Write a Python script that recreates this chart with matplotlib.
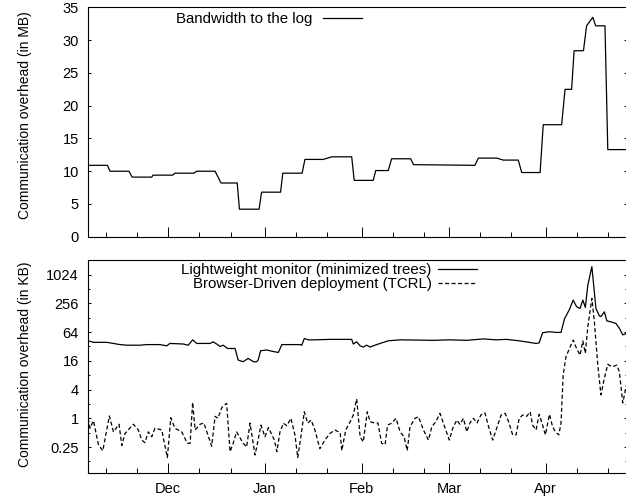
import numpy as np
import matplotlib
matplotlib.use('Agg')
import matplotlib.pyplot as plt
from matplotlib.ticker import FixedLocator, FixedFormatter, NullFormatter

plt.rcParams['font.family'] = ['Liberation Sans', 'DejaVu Sans']
plt.rcParams['lines.scale_dashes'] = False

# x axis: days since 1 December
month_labels = ['Dec', 'Jan', 'Feb', 'Mar', 'Apr']
month_days = [0, 31, 62, 90, 121]
minor_days = [-20, -10, 10, 20, 41, 51, 72, 82, 100, 110, 131, 141]
x_range = (-25.65, 146.9)

# top panel: bandwidth to the log (MB)
log_days = [-25.7, -19.5, -18.7, -12.6, -11.6, -5.3, -4.9, 1.4, 2.1, 8.2,
            9.1, 15.0, 16.9, 22.1, 22.8, 29.1, 29.9, 36.0, 36.7, 42.9,
            43.8, 49.7, 52.4, 58.8, 59.6, 65.7, 66.5, 70.5, 71.6, 77.7,
            78.6, 98.3, 99.4, 105.3, 107.4, 112.2, 113.3, 119.2, 120.2, 126.1,
            127.2, 129.3, 130.1, 133.1, 134.1, 136.1, 137.0, 140.0, 140.9, 146.9]
log_mb = [10.9, 10.9, 10.0, 10.0, 9.1, 9.1, 9.4, 9.4, 9.7, 9.7,
          10.0, 10.0, 8.2, 8.2, 4.2, 4.2, 6.8, 6.8, 9.7, 9.7,
          11.8, 11.8, 12.2, 12.2, 8.6, 8.6, 10.1, 10.1, 11.9, 11.9,
          11.0, 10.9, 12.0, 12.0, 11.7, 11.7, 9.8, 9.8, 17.1, 17.1,
          22.5, 22.5, 28.4, 28.4, 32.2, 33.5, 32.2, 32.2, 13.3, 13.3]
mb_ticks = [0, 5, 10, 15, 20, 25, 30, 35]

# bottom panel: lightweight monitor (KB)
lw_days = [-25.7, -24.0, -19.7, -17.6, -15.5, -13.3, -9.1, -6.9, -2.7, -0.5,
           0.5, 4.8, 6.4, 7.8, 9.1, 13.4, 14.4, 15.5, 16.6, 17.6,
           19.0, 21.4, 22.4, 24.0, 25.6, 27.3, 28.3, 28.8, 29.6, 31.5,
           33.7, 35.3, 36.4, 39.0, 42.2, 42.8, 43.6, 44.9, 46.5, 51.8,
           56.7, 58.8, 59.3, 60.4, 61.5, 62.5, 63.6, 64.7, 65.7, 67.9,
           70.5, 74.3, 85.0, 90.3, 95.7, 101.0, 105.1, 108.3, 112.5, 115.7,
           117.9, 118.9, 120.0, 122.2, 124.3, 125.9, 127.0, 128.6, 129.8, 130.9,
           132.0, 132.9, 133.7, 134.5, 135.8, 137.1, 138.2, 138.7, 139.8, 140.6,
           141.9, 143.5, 144.6, 145.7, 146.9]
lw_kb = [42, 39, 39, 37, 35, 34, 34, 35, 35, 33,
         37, 36, 34, 44, 37, 37, 40, 36, 32, 34,
         29, 29, 16.6, 15.3, 18, 15.3, 15.3, 16.6, 26, 27,
         25, 24, 35, 35, 35, 34, 47, 44, 44, 45,
         45, 45, 36, 40, 33, 31, 34, 31, 33, 37,
         42, 44, 43, 44, 43, 46, 44, 45, 42, 39,
         37, 38, 62, 65, 63, 63, 120, 190, 300, 218,
         200, 300, 210, 620, 1500, 200, 140, 135, 170, 110,
         105, 97, 77, 56, 60]

# bottom panel: browser-driven deployment (KB)
bd_days = [-25.7, -25.1, -24.0, -22.4, -21.0, -18.9, -17.6, -15.8, -14.9, -13.9,
           -11.2, -9.6, -8.5, -7.5, -6.4, -5.3, -4.3, -2.1, -0.3, 0.8,
           2.1, 4.3, 6.1, 7.0, 7.8, 8.6, 10.2, 11.4, 13.9, 15.0,
           15.9, 17.2, 18.7, 19.8, 20.8, 21.9, 24.0, 25.1, 26.2, 27.8,
           28.9, 29.7, 31.0, 32.1, 34.0, 34.8, 35.8, 36.9, 38.0, 39.3,
           40.6, 41.5, 42.5, 43.6, 44.7, 45.8, 47.0, 48.6, 50.2, 51.8,
           53.4, 55.1, 55.6, 56.9, 58.3, 59.3, 60.4, 61.5, 62.5, 63.8,
           64.7, 66.0, 67.2, 68.4, 69.5, 70.3, 71.6, 73.0, 74.3, 75.6,
           76.6, 77.5, 79.1, 80.2, 81.8, 83.4, 84.5, 85.8, 87.1, 88.4,
           90.1, 91.2, 92.5, 93.5, 94.6, 95.7, 96.7, 97.8, 99.0, 100.2,
           101.5, 102.6, 104.0, 105.1, 106.7, 108.0, 109.1, 110.4, 111.5, 112.5,
           113.6, 114.9, 116.0, 116.8, 117.9, 118.9, 119.8, 120.9, 122.2, 123.2,
           124.1, 125.2, 125.9, 126.6, 127.5, 128.6, 129.8, 130.9, 132.0, 132.9,
           133.7, 134.5, 135.8, 136.6, 137.7, 138.7, 139.8, 140.9, 142.3, 143.8,
           144.6, 145.7, 146.9]
bd_kb = [1.0, 0.62, 0.89, 0.28, 0.21, 1.12, 0.52, 0.75, 0.27, 0.48,
         0.75, 0.57, 0.35, 0.31, 0.52, 0.41, 0.62, 0.57, 0.15, 1.03,
         0.62, 0.52, 0.30, 0.30, 2.16, 0.57, 0.75, 0.8, 0.26, 1.1,
         1.0, 1.7, 2.06, 0.2, 0.3, 0.52, 0.3, 0.25, 0.79, 0.17,
         0.38, 0.72, 0.41, 0.64, 0.35, 0.2, 0.52, 0.79, 0.7, 1.0,
         0.45, 0.15, 0.41, 1.37, 0.79, 0.92, 0.57, 0.23, 0.35, 0.48,
         0.57, 0.5, 0.21, 0.57, 0.85, 1.17, 2.54, 0.41, 0.32, 1.37,
         0.85, 0.8, 0.8, 0.3, 0.28, 0.72, 0.79, 1.0, 0.52, 0.41,
         0.21, 0.67, 1.0, 1.08, 0.57, 0.35, 0.67, 0.85, 1.27, 0.72,
         0.35, 0.62, 0.92, 0.75, 1.0, 0.52, 0.8, 1.0, 0.8, 1.17,
         1.3, 0.7, 0.35, 0.57, 1.17, 1.27, 0.85, 0.45, 0.45, 1.0,
         1.17, 1.1, 1.37, 0.72, 0.57, 1.21, 0.8, 0.45, 1.21, 0.67,
         0.52, 0.45, 0.79, 8.1, 19.5, 29, 43.6, 29, 21, 41.6,
         23, 83, 325, 105, 13, 3.1, 6.9, 13.5, 12, 13,
         9.5, 2.1, 5]
kb_ticks = [0.25, 1, 4, 16, 64, 256, 1024]
kb_tick_labels = ['0.25', '1', '4', '16', '64', '256', '1024']
kb_minor = [0.125, 0.5, 2, 8, 32, 128, 512]

series_labels = ['Bandwidth to the log',
                 'Lightweight monitor (minimized trees)',
                 'Browser-Driven deployment (TCRL)']

W, H = 626, 498
fig = plt.figure(figsize=(W / 100, H / 100), dpi=100)

def fx(px):
    return px / W

def fy(py):
    return 1 - py / H

left_px, right_px = 88.3, 626.5
ax1 = fig.add_axes([fx(left_px), fy(236.7), fx(right_px - left_px), (236.7 - 7.5) / H])
ax2 = fig.add_axes([fx(left_px), fy(473.3), fx(right_px - left_px), (473.3 - 260.0) / H])

TICK_FS = 10.5
LEG_FS = 10.8
LAB_FS = 10
LW = 0.9
DASH = (2.9, 1.8)
label_x = (32 - left_px) / (right_px - left_px)

for ax in (ax1, ax2):
    ax.set_xlim(*x_range)
    ax.xaxis.set_major_locator(FixedLocator(month_days))
    ax.xaxis.set_minor_locator(FixedLocator(minor_days))
    ax.tick_params(axis='x', which='major', direction='in', length=7.2, width=0.7,
                   top=False, bottom=True, labelsize=TICK_FS, pad=6)
    ax.tick_params(axis='x', which='minor', direction='in', length=3.6, width=0.7,
                   top=False, bottom=True)
    ax.tick_params(axis='y', which='major', direction='in', length=2.2, width=0.7,
                   left=True, right=True, labelsize=TICK_FS, pad=6.8)
    ax.tick_params(axis='y', which='minor', direction='in', length=1.2, width=0.7,
                   left=True, right=True)
    for s in ax.spines.values():
        s.set_linewidth(0.8)

# top panel
ax1.plot(log_days, log_mb, color='black', lw=LW, label=series_labels[0])
ax1.set_ylim(0, 35)
ax1.yaxis.set_major_locator(FixedLocator(mb_ticks))
ax1.xaxis.set_major_formatter(NullFormatter())
ax1.set_ylabel('Communication overhead (in MB)', fontsize=LAB_FS)
ax1.yaxis.set_label_coords(label_x, 0.531)
ax1.legend(loc='upper right', bbox_to_anchor=(fx(361.7), fy(12.0)),
           bbox_transform=fig.transFigure, frameon=False, markerfirst=False,
           fontsize=LEG_FS, handlelength=2.6, handletextpad=0.67,
           borderpad=0, borderaxespad=0)

# bottom panel
ax2.plot(lw_days, lw_kb, color='black', lw=LW, label=series_labels[1])
ax2.plot(bd_days, bd_kb, color='black', lw=LW, linestyle='--', dashes=DASH,
         label=series_labels[2])
ax2.set_yscale('log', base=2)
ax2.set_ylim(0.0705, 2070)
ax2.yaxis.set_major_locator(FixedLocator(kb_ticks))
ax2.yaxis.set_major_formatter(FixedFormatter(kb_tick_labels))
ax2.yaxis.set_minor_locator(FixedLocator(kb_minor))
ax2.yaxis.set_minor_formatter(NullFormatter())
ax2.xaxis.set_major_formatter(FixedFormatter(month_labels))
ax2.set_ylabel('Communication overhead (in KB)', fontsize=LAB_FS)
ax2.yaxis.set_label_coords(label_x, 0.512)
ax2.legend(loc='upper right', bbox_to_anchor=(fx(477.3), fy(263.0)),
           bbox_transform=fig.transFigure, frameon=False, markerfirst=False,
           fontsize=LEG_FS, handlelength=2.6, handletextpad=0.45,
           labelspacing=0.02, borderpad=0, borderaxespad=0)

fig.savefig('out.png', dpi=100)
